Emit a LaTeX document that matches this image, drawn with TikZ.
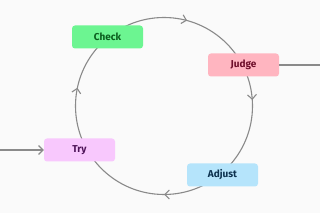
\documentclass[tikz,border=0pt]{standalone}
\usepackage{fontspec}
\setmainfont{Fira Sans}
\usetikzlibrary{arrows.meta,decorations.markings}

\definecolor{bgcol}{HTML}{FAFAFA}
\definecolor{linecol}{HTML}{8A8A8A}
\definecolor{chkfill}{HTML}{6CF591}
\definecolor{chktext}{HTML}{0B5E1E}
\definecolor{judfill}{HTML}{FFB5C0}
\definecolor{judtext}{HTML}{6E0F2A}
\definecolor{adjfill}{HTML}{B5E4FB}
\definecolor{adjtext}{HTML}{0E3350}
\definecolor{tryfill}{HTML}{F8C8FD}
\definecolor{trytext}{HTML}{4E1458}

\begin{document}
\begin{tikzpicture}[x=1pt, y=1pt, font=\bfseries\fontsize{10}{12}\selectfont,
    >={Straight Barb[length=4.5pt, width=9pt]},
    blk/.style={rounded corners=3pt, minimum width=71pt, minimum height=23pt, inner sep=0pt, fill=#1},
    lnk/.style={draw=linecol, line width=1.1pt},
    ring/.style={lnk, postaction={decorate}, decoration={markings,
      mark=at position 0.011 with {\arrowreversed{Straight Barb[length=4.5pt, width=9pt]}},
      mark=at position 0.208 with {\arrowreversed{Straight Barb[length=4.5pt, width=9pt]}},
      mark=at position 0.467 with {\arrowreversed{Straight Barb[length=4.5pt, width=9pt]}},
      mark=at position 0.75 with {\arrowreversed{Straight Barb[length=4.5pt, width=9pt]}}}}]

  \fill[bgcol] (0,0) rectangle (320,213);
  \useasboundingbox (0,0) rectangle (320,213);

  % ---------------- loop ----------------
  \coordinate (mid) at (164,107);
  \draw[ring] (mid) circle (88.5);

  \node[blk=chkfill, text=chktext] (check) at (107.5,176) {Check};
  \node[blk=judfill, text=judtext] (judge) at (243.5,148) {Judge};
  \node[blk=adjfill, text=adjtext] (adjust) at (222.5,38) {Adjust};
  \node[blk=tryfill, text=trytext] (try) at (79.5,63) {Try};

  % ---------------- in / out ----------------
  \coordinate (entry) at (0,63);
  \coordinate (exit) at (320,148);
  \draw[lnk, ->] (entry) -- (try.west);
  \draw[lnk] (judge.east) -- (exit);
\end{tikzpicture}
\end{document}
